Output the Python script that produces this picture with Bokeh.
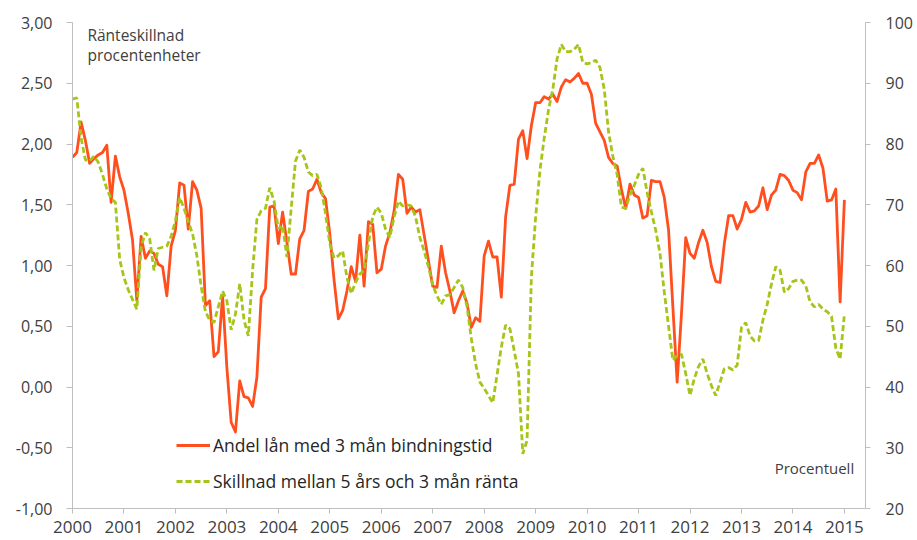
from bokeh.plotting import figure
from bokeh.models import (Range1d, LinearAxis, FixedTicker, Legend, LegendItem,
                          ColumnDataSource, Label)
from bokeh.embed import file_html
from bokeh.resources import INLINE

# ---------------- data ----------------
start_year = 2000
n_months = 181  # Jan 2000 .. Jan 2015

# Andel lån med 3 mån bindningstid (procent, höger axel)
andel = [77.8, 78.6, 83.6, 80.6, 76.8, 77.6, 78.2, 78.6, 79.8, 70.4, 78.0, 74.6,
         72.4, 68.6, 64.2, 54.2, 64.8, 61.2, 62.4, 62.0, 60.2, 59.8, 55.0, 63.2,
         65.8, 73.6, 73.2, 66.0, 73.8, 72.4, 69.4, 53.4, 54.2, 45.0, 45.8, 55.0,
         43.2, 34.2, 32.6, 41.0, 38.4, 38.2, 36.8, 41.6, 54.8, 56.2, 69.6, 69.8,
         63.6, 68.8, 63.8, 58.6, 58.6, 64.4, 65.8, 72.2, 72.6, 74.2, 72.0, 71.0,
         65.2, 57.6, 51.2, 52.6, 55.8, 59.8, 57.4, 65.0, 56.6, 67.2, 66.8, 58.8,
         59.4, 63.2, 65.4, 69.0, 75.0, 74.2, 68.6, 69.6, 68.8, 69.2, 65.0, 60.8,
         56.6, 56.4, 63.2, 58.8, 55.8, 52.2, 54.2, 55.8, 53.8, 49.8, 51.4, 50.8,
         61.6, 64.0, 61.4, 61.4, 54.8, 68.0, 73.2, 73.4, 80.8, 82.2, 77.6, 83.0,
         86.8, 86.8, 87.8, 87.4, 88.2, 87.0, 89.4, 90.6, 90.2, 90.8, 91.6, 90.0,
         90.0, 88.2, 83.4, 82.0, 80.6, 77.8, 76.8, 76.4, 72.6, 69.4, 73.4, 71.6,
         71.2, 67.8, 68.2, 74.0, 73.8, 73.8, 71.2, 65.8, 53.2, 40.8, 52.0, 64.6,
         62.0, 61.2, 63.8, 65.8, 63.8, 59.8, 57.4, 57.2, 63.6, 68.2, 68.2, 66.0,
         67.6, 70.4, 68.8, 69.0, 69.8, 72.8, 69.2, 71.6, 72.4, 75.0, 74.8, 74.0,
         72.4, 72.0, 70.8, 75.4, 76.8, 76.8, 78.2, 76.0, 70.6, 70.8, 72.6, 54.0,
         70.8]

# Skillnad mellan 5 års och 3 mån ränta (procentenheter, vänster axel)
skillnad = [2.37, 2.38, 2.05, 1.87, 1.86, 1.90, 1.85, 1.75, 1.63, 1.55, 1.52, 1.05,
            0.90, 0.80, 0.72, 0.64, 1.15, 1.27, 1.22, 0.96, 1.14, 1.15, 1.16, 1.24,
            1.37, 1.56, 1.47, 1.36, 1.26, 1.08, 0.83, 0.62, 0.55, 0.53, 0.66, 0.79,
            0.71, 0.47, 0.60, 0.85, 0.55, 0.42, 0.96, 1.38, 1.45, 1.47, 1.64, 1.53,
            1.30, 1.33, 1.07, 1.47, 1.86, 1.95, 1.89, 1.77, 1.74, 1.75, 1.64, 1.43,
            1.18, 1.06, 1.08, 1.12, 0.90, 0.77, 0.86, 0.93, 0.96, 1.18, 1.40, 1.48,
            1.43, 1.30, 1.23, 1.40, 1.53, 1.49, 1.50, 1.49, 1.40, 1.23, 1.12, 0.99,
            0.84, 0.75, 0.68, 0.75, 0.76, 0.82, 0.88, 0.82, 0.66, 0.40, 0.19, 0.04,
            -0.01, -0.07, -0.13, 0.10, 0.33, 0.51, 0.48, 0.30, 0.11, -0.55, -0.44, 0.90,
            1.40, 1.78, 2.05, 2.28, 2.45, 2.70, 2.82, 2.76, 2.76, 2.78, 2.82, 2.67,
            2.66, 2.67, 2.69, 2.63, 2.45, 2.10, 1.90, 1.75, 1.48, 1.47, 1.58, 1.66,
            1.75, 1.80, 1.60, 1.44, 1.29, 1.10, 0.78, 0.50, 0.22, 0.26, 0.27, 0.11,
            -0.07, 0.07, 0.17, 0.23, 0.11, 0.01, -0.07, 0.04, 0.15, 0.16, 0.14, 0.18,
            0.49, 0.53, 0.42, 0.38, 0.38, 0.55, 0.68, 0.85, 0.99, 0.96, 0.78, 0.81,
            0.87, 0.88, 0.88, 0.83, 0.70, 0.66, 0.68, 0.64, 0.62, 0.58, 0.32, 0.23,
            0.60]

years = list(range(2000, 2016))
left_ticks = [-1.0, -0.5, 0.0, 0.5, 1.0, 1.5, 2.0, 2.5, 3.0]
left_labels = ["-1,00", "-0,50", "0,00", "0,50", "1,00", "1,50", "2,00", "2,50", "3,00"]
right_ticks = [20, 30, 40, 50, 60, 70, 80, 90, 100]

label_andel = "Andel lån med 3 mån bindningstid"
label_skillnad = "Skillnad mellan 5 års och 3 mån ränta"

# time axis in fractional years (monthly points)
t = [start_year + i / 12 for i in range(n_months)]
src = ColumnDataSource(dict(t=t, andel=andel, skillnad=skillnad))

# ---------------- figure ----------------
FONT = "Open Sans"
TXT = "#404040"
AX = "#bfbfbf"
ORANGE = "#FF4F1F"
GREEN = "#A6C51A"

W, H = 915, 538
p = figure(width=W, height=H, output_backend="svg", toolbar_location=None,
           x_range=Range1d(2000, 2015.41), y_range=Range1d(-1, 3),
           min_border_left=72, min_border_right=W - 867, min_border_top=22,
           min_border_bottom=H - 508)
p.outline_line_color = None
p.grid.visible = False
p.background_fill_color = "white"
p.border_fill_color = "white"

p.extra_y_ranges = {"pct": Range1d(20, 100)}

# x axis
xa = p.xaxis[0]
xa.ticker = FixedTicker(ticks=years)
xa.axis_line_color = AX
xa.major_tick_line_color = AX
xa.major_tick_out = 5
xa.major_tick_in = 0
xa.minor_tick_line_color = None
xa.major_label_standoff = 7
xa.major_label_text_font = FONT
xa.major_label_text_font_size = "17px"
xa.major_label_text_color = TXT

# left axis
ya = p.yaxis[0]
ya.ticker = FixedTicker(ticks=left_ticks)
ya.major_label_overrides = {v: s for v, s in zip(left_ticks, left_labels)}
ya.axis_line_color = AX
ya.major_tick_line_color = AX
ya.major_tick_out = 6
ya.major_tick_in = 0
ya.minor_tick_line_color = None
ya.major_label_standoff = 14
ya.major_label_text_font = FONT
ya.major_label_text_font_size = "16px"
ya.major_label_text_color = TXT

# right axis
ra = LinearAxis(y_range_name="pct")
ra.ticker = FixedTicker(ticks=right_ticks)
ra.axis_line_color = AX
ra.major_tick_line_color = AX
ra.major_tick_out = 5
ra.major_tick_in = 0
ra.minor_tick_line_color = None
ra.major_label_standoff = 15
ra.major_label_text_font = FONT
ra.major_label_text_font_size = "16px"
ra.major_label_text_color = TXT
p.add_layout(ra, "right")

# lines
r_andel = p.line("t", "andel", source=src, y_range_name="pct",
                 line_color=ORANGE, line_width=2.8, line_join="round")
r_skill = p.line("t", "skillnad", source=src, line_color=GREEN,
                 line_width=2.8, line_dash="6 3")

# legend
leg = Legend(items=[LegendItem(label=label_andel, renderers=[r_andel]),
                    LegendItem(label=label_skillnad, renderers=[r_skill])],
             location=(104, 15), orientation="vertical",
             padding=0, margin=0, spacing=12,
             glyph_width=34, glyph_height=22, label_height=22,
             label_standoff=3, border_line_color=None,
             background_fill_alpha=0,
             label_text_font=FONT, label_text_font_size="17.5px",
             label_text_color="#262626")
p.add_layout(leg, "center")

# inner axis titles
p.add_layout(Label(x=2000.29, y=2.99, text="Ränteskillnad",
                   text_font=FONT, text_font_size="15.5px", text_color=TXT,
                   text_baseline="top", text_align="left"))
p.add_layout(Label(x=2000.29, y=2.82, text="procentenheter",
                   text_font=FONT, text_font_size="15.5px", text_color=TXT,
                   text_baseline="top", text_align="left"))
p.add_layout(Label(x=2015.19, y=-0.67, text="Procentuell",
                   text_font=FONT, text_font_size="15px", text_color=TXT,
                   text_baseline="middle", text_align="right"))

open("out.html", "w").write(file_html(p, INLINE))
